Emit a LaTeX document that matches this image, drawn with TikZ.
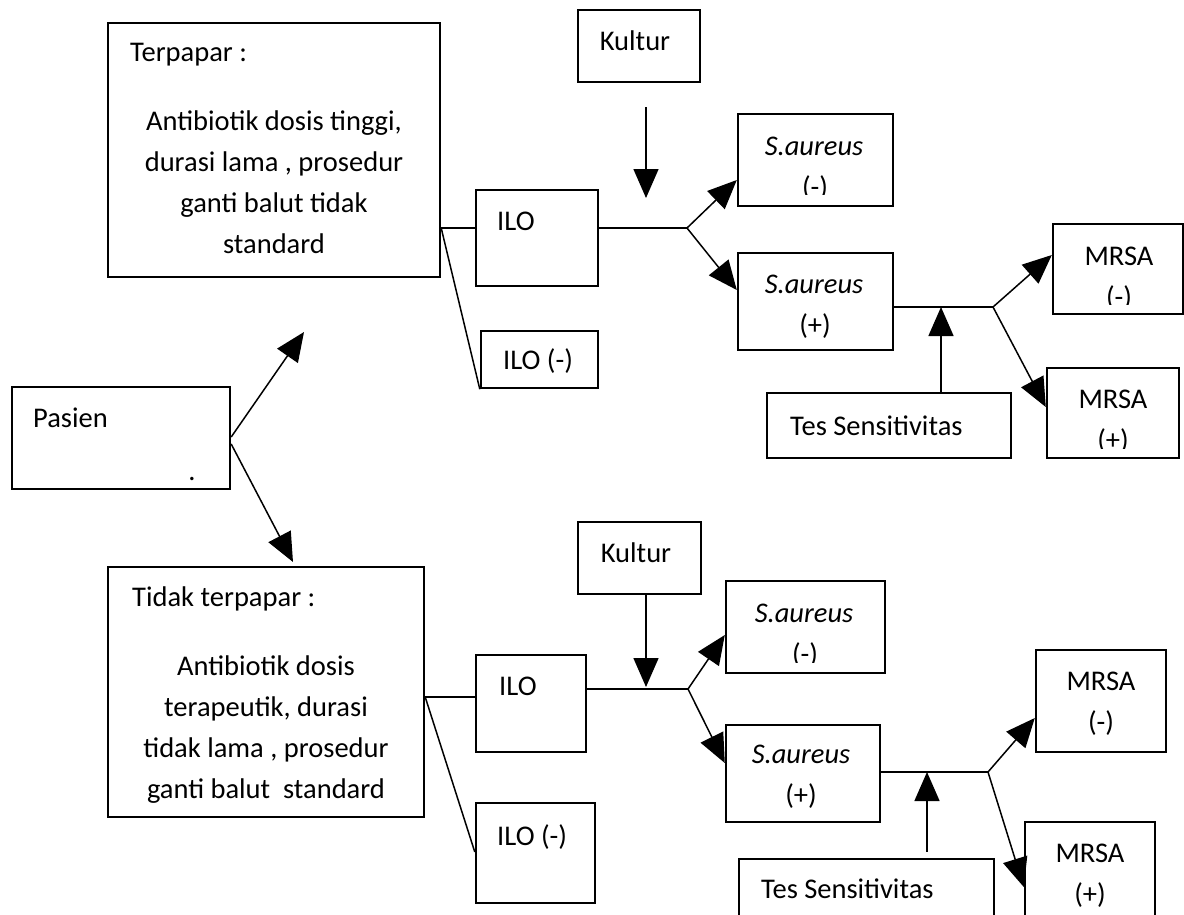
\documentclass[tikz,border=0pt]{standalone}
\usepackage{fontspec}
\setmainfont{Carlito}
\usetikzlibrary{arrows.meta,calc}

% rectangle node given by its corners: name, x1, y1, x2, y2
\newcommand\boxnode[5]{%
  \node[box, minimum width={(#4)-(#2)}, minimum height={(#5)-(#3)}]
    (#1) at ({((#2)+(#4))/2},{((#3)+(#5))/2}) {};}

\begin{document}
\begin{tikzpicture}[x=1pt,y=-1pt,
  box/.style={draw, line width=2.4pt, inner sep=0pt},
  conn/.style={line width=1.5pt},
  arr/.style={conn, -{Triangle[length=29pt,width=25pt]}},
  lbl/.style={inner sep=0pt, anchor=base, font=\fontsize{28.5}{41}\selectfont},
  lbll/.style={lbl, anchor=base west}
]
\useasboundingbox (0,0) rectangle (1184,914);
\clip (0,0) rectangle (1184,914);

% ---------- boxes ----------
\boxnode{pas}{12}{387}{230}{489}
% exposed branch
\boxnode{ter}{108}{23}{440}{277}
\boxnode{kul1}{578}{10}{700}{82}
\boxnode{ilo1}{476}{190}{598}{286}
\boxnode{ilom1}{481}{331}{598}{388}
\boxnode{sa1}{738}{114}{893}{206}
\boxnode{sap1}{738}{253}{893}{350}
\boxnode{tes1}{767}{393}{1011}{458}
\boxnode{mr1}{1053}{224}{1183}{314}
\boxnode{mrp1}{1047}{368}{1179}{458}
% unexposed branch
\boxnode{tid}{108}{567}{424}{817}
\boxnode{kul2}{578}{522}{701}{594}
\boxnode{ilo2}{476}{655}{586}{752}
\boxnode{ilom2}{476}{803}{595}{903}
\boxnode{sa2}{726}{581}{885}{673}
\boxnode{sap2}{726}{725}{880}{822}
\boxnode{tes2}{739}{859}{994}{940}
\boxnode{mr2}{1036}{650}{1166}{752}
\boxnode{mrp2}{1025}{822}{1155}{940}

% ---------- texts ----------
\node[lbll] (pasT) at (33,427) {Pasien};
\node[lbl] (pasD) at (192,480) {.};

\node[lbll] (terT) at (130,61) {Terpapar :};
\node[lbl] (terL1) at (274,130) {Antibiotik dosis tinggi,};
\node[lbl] (terL2) at (274,171) {durasi lama , prosedur};
\node[lbl] (terL3) at (274,212) {ganti balut tidak};
\node[lbl] (terL4) at (274,253) {standard};

\node[lbl] (kul1T) at (635,50) {Kultur};
\node[lbll] (ilo1T) at (497,230) {ILO};
\node[lbl] (ilom1T) at (538,369) {ILO (-)};
\node[lbl] (sa1T) at (814,155) {\textit{S.aureus}};
\begin{scope}
  \clip (740,160) rectangle (890,194);
  \node[lbl] (sa1S) at (815,196) {(-)};
\end{scope}
\node[lbl] (sap1T) at (814,293) {\textit{S.aureus}};
\node[lbl] (sap1S) at (815,334) {(+)};
\node[lbll] (tes1T) at (790,435) {Tes Sensitivitas};
\node[lbl] (mr1T) at (1119,265) {MRSA};
\begin{scope}
  \clip (1055,270) rectangle (1180,304);
  \node[lbl] (mr1S) at (1119,306) {(-)};
\end{scope}
\node[lbl] (mrp1T) at (1113,408) {MRSA};
\begin{scope}
  \clip (1050,412) rectangle (1175,448);
  \node[lbl] (mrp1S) at (1113,449) {(+)};
\end{scope}

\node[lbll] (tidT) at (132,606) {Tidak terpapar :};
\node[lbl] (tidL1) at (266,675) {Antibiotik dosis};
\node[lbl] (tidL2) at (266,716) {terapeutik, durasi};
\node[lbl] (tidL3) at (266,757) {tidak lama , prosedur};
\node[lbl] (tidL4) at (266,798) {ganti balut~ standard};

\node[lbl] (kul2T) at (636,562) {Kultur};
\node[lbll] (ilo2T) at (499,695) {ILO};
\node[lbll] (ilom2T) at (497,845) {ILO (-)};
\node[lbl] (sa2T) at (804,622) {\textit{S.aureus}};
\begin{scope}
  \clip (728,628) rectangle (882,662);
  \node[lbl] (sa2S) at (805,663) {(-)};
\end{scope}
\node[lbl] (sap2T) at (801,763) {\textit{S.aureus}};
\node[lbl] (sap2S) at (801,804) {(+)};
\node[lbll] (tes2T) at (761,898) {Tes Sensitivitas};
\node[lbl] (mr2T) at (1101,690) {MRSA};
\node[lbl] (mr2S) at (1101,731) {(-)};
\node[lbl] (mrp2T) at (1090,862) {MRSA};
\node[lbl] (mrp2S) at (1090,903) {(+)};

% ---------- junction points and free arrow ends ----------
\coordinate (pt1) at (304,332);
\coordinate (pt2) at (293,562);
\coordinate (fk1) at (440,228);
\coordinate (k1a) at (646,107);
\coordinate (k1b) at (646,198);
\coordinate (j1) at (687,228);
\coordinate (j2) at (993,307);
\coordinate (ts1) at (941,307);
\coordinate (fk2) at (424,697);
\coordinate (k2) at (646,687);
\coordinate (j3) at (688,689);
\coordinate (j4) at (988,772);
\coordinate (ts2) at (927,772);

% ---------- connectors ----------
% patient split
\draw[arr] (pas.east |- 0,437) -- (pt1);
\draw[arr] (pas.east |- 0,444) -- (pt2);

% exposed branch
\draw[conn] (ter.east |- fk1) -- (ilo1.west |- fk1);
\draw[conn] (ter.east |- fk1) -- (ilom1.south west);
\draw[arr] (k1a) -- (k1b);
\draw[conn] (ilo1.east |- j1) -- (j1);
\draw[arr] (j1) -- (sa1.west |- 0,180);
\draw[arr] (j1) -- (sap1.west |- 0,290);
\draw[conn] (sap1.east |- j2) -- (j2);
\draw[arr] (tes1.north -| ts1) -- (ts1);
\draw[arr] (j2) -- (mr1.west |- 0,255);
\draw[arr] (j2) -- (mrp1.west |- 0,407);

% unexposed branch
\draw[conn] (tid.east |- fk2) -- (ilo2.west |- fk2);
\draw[conn] (tid.east |- fk2) -- (ilom2.west |- 0,852);
\draw[arr] (kul2.south -| k2) -- (k2);
\draw[conn] (ilo2.east |- j3) -- (j3);
\draw[arr] (j3) -- (sa2.west |- 0,635);
\draw[arr] (j3) -- (sap2.west |- 0,763);
\draw[conn] (sap2.east |- j4) -- (j4);
\draw[arr] ($(tes2.north -| ts2)+(0,-6)$) -- (ts2);
\draw[arr] (j4) -- (mr2.west |- 0,718);
\draw[arr] (j4) -- (mrp2.west |- 0,887);
\end{tikzpicture}
\end{document}
